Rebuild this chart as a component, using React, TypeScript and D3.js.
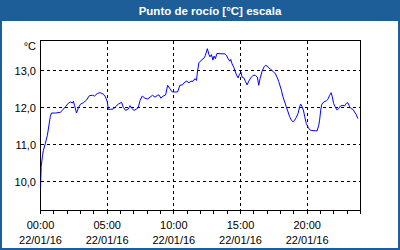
import React from "react";
import * as d3 from "d3";

const title = "Punto de rocío [°C] escala";
const unitLabel = "°C";
const dateLabel = "22/01/16";
const xTickHours = [0, 5, 10, 15, 20];
const xTickLabels = ["00:00", "05:00", "10:00", "15:00", "20:00"];
const yTicks = [10, 11, 12, 13];
const yTickLabels = ["10,0", "11,0", "12,0", "13,0"];

// minutes since midnight
const minutes = [
  0, 3, 9, 13, 22, 31, 44, 49, 67, 90, 99, 112, 126, 135, 144, 148, 153, 162, 171, 180,
  193, 207, 220, 234, 243, 256, 269, 283, 292, 301, 305, 314, 328, 337, 350, 365, 373, 383, 395, 403,
  410, 421, 432, 440, 448, 458, 470, 482, 493, 504, 515, 527, 533, 542, 552, 563, 572, 582, 593, 605,
  617, 627, 638, 650, 657, 668, 677, 687, 695, 702, 706, 713, 724, 737, 742, 751, 758, 763, 769, 776,
  781, 787, 794, 817, 830, 837, 844, 852, 856, 862, 871, 877, 883, 889, 895, 902, 907, 915, 922, 930,
  937, 946, 957, 967, 976, 982, 988, 997, 1006, 1012, 1021, 1027, 1036, 1046, 1057, 1066, 1072, 1084, 1091, 1099,
  1106, 1114, 1121, 1129, 1136, 1144, 1151, 1159, 1166, 1171, 1177, 1183, 1189, 1196, 1204, 1211, 1218, 1236, 1245, 1252,
  1256, 1261, 1266, 1275, 1286, 1293, 1301, 1308, 1313, 1319, 1326, 1335, 1341, 1350, 1361, 1368, 1376, 1383, 1391, 1398,
  1406, 1413, 1420, 1428,
];
const dewPoint = [
  9.8, 10.4, 10.7, 10.84, 11.03, 11.25, 11.75, 11.85, 11.85, 11.87, 11.93, 12.02, 12.12, 12.15, 12.12, 12.17, 12.06, 11.85, 12.0, 12.09,
  12.13, 12.2, 12.32, 12.33, 12.31, 12.38, 12.4, 12.36, 12.29, 12.15, 11.95, 11.95, 11.96, 12.02, 12.09, 12.14, 12.0, 11.92, 11.96, 12.05,
  11.98, 11.92, 11.96, 12.0, 12.19, 12.31, 12.25, 12.23, 12.28, 12.33, 12.28, 12.33, 12.34, 12.25, 12.31, 12.34, 12.6, 12.51, 12.42, 12.42,
  12.42, 12.6, 12.61, 12.69, 12.71, 12.67, 12.71, 12.71, 12.78, 12.73, 12.96, 13.21, 13.28, 13.34, 13.41, 13.59, 13.43, 13.37, 13.43, 13.28,
  13.39, 13.32, 13.46, 13.45, 13.45, 13.41, 13.32, 13.25, 13.3, 13.18, 13.07, 12.96, 12.87, 12.8, 12.89, 12.96, 12.82, 12.8, 12.71, 12.61,
  12.71, 12.8, 12.87, 12.87, 12.82, 12.6, 12.78, 12.98, 13.1, 13.14, 13.12, 13.07, 13.03, 12.98, 12.91, 12.8, 12.7, 12.47, 12.29, 12.15,
  12.02, 11.88, 11.75, 11.66, 11.61, 11.66, 11.73, 11.84, 12.02, 12.09, 12.02, 11.93, 11.75, 11.57, 11.47, 11.4, 11.38, 11.37, 11.37, 11.52,
  11.66, 11.93, 12.09, 12.15, 12.18, 12.22, 12.33, 12.4, 12.29, 12.11, 12.02, 11.93, 11.97, 12.04, 12.06, 12.04, 12.11, 12.13, 12.02, 11.97,
  11.95, 11.88, 11.82, 11.7,
];

const W = 400;
const H = 250;
const FONT = "'Liberation Sans', Arial, sans-serif";

export default function App() {
  const x = d3.scaleLinear().domain([0, 1440]).range([40.5, 360.5]);
  const y = d3.scaleLinear().domain([13 - 140 / 37, 13 + 30 / 37]).range([210.5, 40.5]);
  const pts = minutes.map((m, i) => [m, dewPoint[i]] as [number, number]);
  const line = d3
    .line<[number, number]>()
    .x((d) => x(d[0]))
    .y((d) => y(d[1]));
  const hours = d3.range(0, 25);
  const blue = "#1d5e98";
  return (
    <div style={{ position: "fixed", left: 0, top: 0 }}>
      <svg width={W} height={H} style={{ display: "block" }}>
        <rect x={0} y={0} width={W} height={H} fill={blue} />
        <rect x={2} y={21} width={W - 4} height={H - 23} fill="#ffffff" />
        <text x={210} y={14.5} textAnchor="middle" fill="#ffffff" fontFamily={FONT} fontWeight="bold" fontSize={11.5}>
          {title}
        </text>
        <defs>
          <clipPath id="plotclip">
            <rect x={40.5} y={40.5} width={320} height={170} />
          </clipPath>
        </defs>
        {/* grid */}
        {yTicks.map((v) => (
          <line key={"gy" + v} x1={40.5} x2={360.5} y1={y(v)} y2={y(v)} stroke="#000" strokeDasharray="3,3" shapeRendering="crispEdges" />
        ))}
        {xTickHours.slice(1).map((h) => (
          <line key={"gx" + h} x1={Math.floor(x(h * 60)) + 0.5} x2={Math.floor(x(h * 60)) + 0.5} y1={40.5} y2={210.5} stroke="#000" strokeDasharray="3,3" shapeRendering="crispEdges" />
        ))}
        {/* frame */}
        <rect x={40.5} y={40.5} width={320} height={170} fill="none" stroke="#000" strokeWidth={1} shapeRendering="crispEdges" />
        {/* hour ticks */}
        {hours.map((h) => (
          <line key={"t" + h} x1={Math.floor(x(h * 60)) + 0.5} x2={Math.floor(x(h * 60)) + 0.5} y1={210.5} y2={213.5} stroke="#000" shapeRendering="crispEdges" />
        ))}
        {/* series */}
        <path d={line(pts) || ""} fill="none" stroke="#0000ff" strokeWidth={1} clipPath="url(#plotclip)" />
        {/* y labels */}
        {yTicks.map((v, i) => (
          <text key={"yl" + v} x={36} y={y(v) + 4} textAnchor="end" fontFamily={FONT} fontSize={11} fill="#000">
            {yTickLabels[i]}
          </text>
        ))}
        <text x={36} y={49.5} textAnchor="end" fontFamily={FONT} fontSize={11} fill="#000">
          {unitLabel}
        </text>
        {/* x labels */}
        {xTickHours.map((h, i) => (
          <g key={"xl" + h}>
            <text x={x(h * 60)} y={228.5} textAnchor="middle" fontFamily={FONT} fontSize={11} fill="#000">
              {xTickLabels[i]}
            </text>
            <text x={x(h * 60)} y={243.5} textAnchor="middle" fontFamily={FONT} fontSize={11} fill="#000">
              {dateLabel}
            </text>
          </g>
        ))}
      </svg>
    </div>
  );
}
